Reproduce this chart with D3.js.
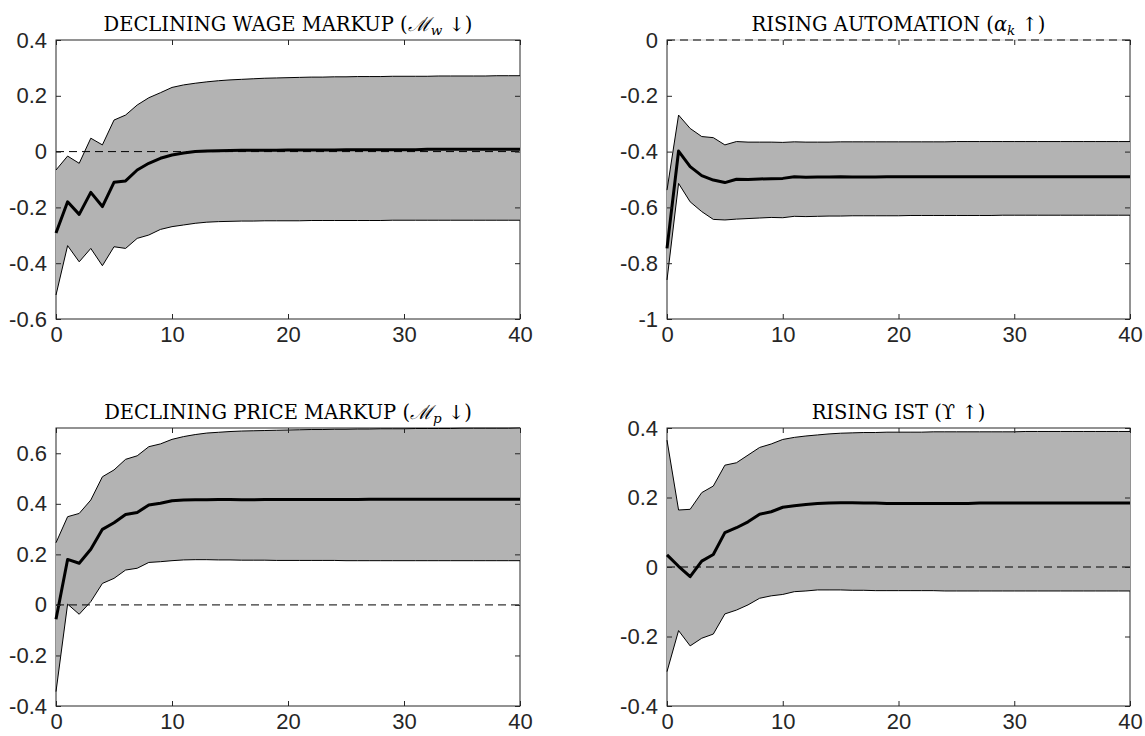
<!DOCTYPE html>
<html>
<head>
<meta charset="utf-8">
<script src="https://cdn.jsdelivr.net/npm/d3@7"></script>
<style>
  body { margin: 0; background: #fff; }
</style>
</head>
<body>
<div id="chart"></div>
<script>
// horizon (quarters after the shock)
const horizon = d3.range(0, 41);

// declining wage markup
const wageMean = [-0.292,-0.180,-0.225,-0.146,-0.197,-0.110,-0.105,-0.066,-0.042,-0.024,-0.012,-0.005,0.000,0.002,0.003,0.004,0.005,0.005,0.005,0.005,0.006,0.006,0.006,0.006,0.006,0.007,0.007,0.007,0.007,0.007,0.007,0.007,0.008,0.008,0.008,0.008,0.008,0.008,0.008,0.008,0.008];
const wageHi = [-0.066,-0.016,-0.042,0.048,0.024,0.113,0.131,0.167,0.193,0.211,0.230,0.239,0.245,0.250,0.254,0.257,0.259,0.261,0.263,0.264,0.265,0.266,0.267,0.267,0.268,0.268,0.269,0.269,0.269,0.270,0.270,0.270,0.270,0.271,0.271,0.271,0.271,0.271,0.272,0.272,0.272];
const wageLo = [-0.514,-0.337,-0.395,-0.347,-0.409,-0.341,-0.347,-0.311,-0.299,-0.279,-0.269,-0.263,-0.257,-0.253,-0.251,-0.250,-0.249,-0.249,-0.248,-0.248,-0.248,-0.248,-0.247,-0.247,-0.247,-0.247,-0.247,-0.247,-0.247,-0.246,-0.246,-0.246,-0.246,-0.246,-0.246,-0.246,-0.246,-0.246,-0.246,-0.246,-0.246];

// rising automation
const autoMean = [-0.747,-0.398,-0.454,-0.486,-0.502,-0.511,-0.499,-0.500,-0.498,-0.497,-0.496,-0.490,-0.492,-0.491,-0.491,-0.490,-0.491,-0.491,-0.491,-0.490,-0.490,-0.490,-0.490,-0.490,-0.490,-0.490,-0.490,-0.490,-0.490,-0.490,-0.490,-0.490,-0.490,-0.490,-0.490,-0.490,-0.490,-0.490,-0.490,-0.490,-0.490];
const autoHi = [-0.538,-0.269,-0.317,-0.346,-0.350,-0.376,-0.364,-0.366,-0.366,-0.366,-0.367,-0.365,-0.366,-0.366,-0.366,-0.365,-0.365,-0.365,-0.365,-0.365,-0.365,-0.365,-0.365,-0.365,-0.365,-0.364,-0.364,-0.364,-0.364,-0.364,-0.364,-0.364,-0.364,-0.364,-0.364,-0.364,-0.364,-0.364,-0.364,-0.364,-0.364];
const autoLo = [-0.860,-0.514,-0.580,-0.615,-0.643,-0.645,-0.642,-0.640,-0.638,-0.636,-0.637,-0.632,-0.633,-0.632,-0.631,-0.631,-0.630,-0.630,-0.630,-0.630,-0.630,-0.629,-0.629,-0.629,-0.629,-0.629,-0.629,-0.629,-0.629,-0.628,-0.628,-0.628,-0.628,-0.628,-0.628,-0.628,-0.628,-0.628,-0.628,-0.628,-0.628];

// declining price markup
const priceMean = [-0.057,0.180,0.165,0.220,0.299,0.325,0.358,0.366,0.395,0.402,0.412,0.415,0.416,0.416,0.417,0.417,0.416,0.416,0.417,0.417,0.417,0.417,0.417,0.417,0.417,0.417,0.417,0.418,0.418,0.418,0.418,0.418,0.418,0.418,0.418,0.418,0.418,0.418,0.418,0.418,0.418];
const priceHi = [0.246,0.349,0.362,0.415,0.507,0.534,0.576,0.590,0.626,0.637,0.655,0.666,0.674,0.680,0.683,0.686,0.688,0.689,0.690,0.691,0.692,0.693,0.694,0.694,0.695,0.695,0.696,0.696,0.697,0.697,0.697,0.698,0.698,0.698,0.698,0.699,0.699,0.699,0.699,0.699,0.700];
const priceLo = [-0.343,0.003,-0.037,0.013,0.085,0.105,0.138,0.145,0.168,0.171,0.175,0.178,0.179,0.179,0.178,0.178,0.177,0.177,0.177,0.176,0.176,0.176,0.176,0.176,0.176,0.175,0.175,0.175,0.175,0.175,0.175,0.175,0.175,0.175,0.175,0.175,0.175,0.175,0.175,0.175,0.175];

// rising IST
const istMean = [0.035,0.002,-0.028,0.017,0.036,0.099,0.113,0.130,0.152,0.159,0.172,0.176,0.180,0.183,0.184,0.185,0.185,0.184,0.184,0.183,0.183,0.183,0.183,0.183,0.183,0.183,0.183,0.184,0.184,0.184,0.184,0.184,0.184,0.184,0.184,0.184,0.184,0.184,0.184,0.184,0.184];
const istHi = [0.365,0.164,0.166,0.214,0.233,0.293,0.300,0.322,0.344,0.354,0.367,0.373,0.377,0.380,0.383,0.385,0.386,0.387,0.387,0.388,0.388,0.388,0.388,0.389,0.389,0.389,0.389,0.389,0.389,0.389,0.389,0.390,0.390,0.390,0.390,0.390,0.390,0.390,0.390,0.390,0.390];
const istLo = [-0.301,-0.183,-0.227,-0.205,-0.193,-0.135,-0.124,-0.109,-0.090,-0.083,-0.079,-0.071,-0.069,-0.066,-0.066,-0.066,-0.067,-0.067,-0.068,-0.068,-0.068,-0.068,-0.068,-0.068,-0.069,-0.069,-0.069,-0.069,-0.069,-0.069,-0.069,-0.069,-0.069,-0.069,-0.069,-0.069,-0.069,-0.069,-0.069,-0.069,-0.069];

const xTicks = [0, 10, 20, 30, 40];

const W = 1145, H = 736;
const svg = d3.select("#chart").append("svg")
    .attr("width", W)
    .attr("height", H);

// title pieces: [text, style] ; style "m" = math italic, "s" = subscript italic
const panels = [
  { mean: wageMean, lo: wageLo, hi: wageHi, yDom: [-0.6, 0.4],
    yTicks: [-0.6, -0.4, -0.2, 0, 0.2, 0.4],
    title: [["DECLINING WAGE MARKUP (", ""], ["\u2133", "m"], ["w", "s"], [" \u2193)", ""]],
    left: 56, top: 40, w: 464, h: 279 },
  { mean: autoMean, lo: autoLo, hi: autoHi, yDom: [-1, 0],
    yTicks: [-1, -0.8, -0.6, -0.4, -0.2, 0],
    title: [["RISING AUTOMATION (", ""], ["\u03B1", "m"], ["k", "s"], [" \u2191)", ""]],
    left: 667, top: 40, w: 463, h: 279 },
  { mean: priceMean, lo: priceLo, hi: priceHi, yDom: [-0.4, 0.7],
    yTicks: [-0.4, -0.2, 0, 0.2, 0.4, 0.6],
    title: [["DECLINING PRICE MARKUP (", ""], ["\u2133", "m"], ["p", "s"], [" \u2193)", ""]],
    left: 56, top: 428, w: 464, h: 278 },
  { mean: istMean, lo: istLo, hi: istHi, yDom: [-0.4, 0.4],
    yTicks: [-0.4, -0.2, 0, 0.2, 0.4],
    title: [["RISING IST (", ""], ["\u03D2", ""], [" \u2191)", ""]],
    left: 667, top: 428, w: 463, h: 278 }
];

// plain hyphen minus like the original, no trailing zeros
const fmt = d => String(+d.toFixed(1));

panels.forEach(function(p) {
  const g = svg.append("g").attr("transform", `translate(${p.left}, ${p.top})`);

  const x = d3.scaleLinear().domain([0, 40]).range([0, p.w]);
  const y = d3.scaleLinear().domain(p.yDom).range([p.h, 0]);
  const axCol = "#262626";

  // box first, so the zero line can sit on top of it
  g.append("rect")
    .attr("x", 0).attr("y", 0)
    .attr("width", p.w).attr("height", p.h)
    .attr("fill", "none")
    .attr("stroke", axCol).attr("stroke-width", 1);

  // shaded band
  const area = d3.area()
    .x((d, i) => x(horizon[i]))
    .y0((d, i) => y(p.lo[i]))
    .y1((d, i) => y(p.hi[i]));
  g.append("path")
    .datum(horizon)
    .attr("d", area)
    .attr("fill", "#b3b3b3")
    .attr("stroke", "none");

  const line = arr => d3.line().x((d, i) => x(horizon[i])).y((d, i) => y(arr[i]))(horizon);

  g.append("path").attr("d", line(p.hi))
    .attr("fill", "none").attr("stroke", "#000").attr("stroke-width", 1);
  g.append("path").attr("d", line(p.lo))
    .attr("fill", "none").attr("stroke", "#000").attr("stroke-width", 1);

  // zero line (on the frame for the automation panel)
  if (p.yDom[1] === 0) {
    g.append("line")
      .attr("x1", x(0)).attr("x2", x(40))
      .attr("y1", y(0)).attr("y2", y(0))
      .attr("stroke", "#fff").attr("stroke-width", 1.5);
  }
  g.append("line")
    .attr("x1", x(0)).attr("x2", x(40))
    .attr("y1", y(0)).attr("y2", y(0))
    .attr("stroke", "#000").attr("stroke-width", 1)
    .attr("stroke-dasharray", "8,5");

  // point estimate
  g.append("path").attr("d", line(p.mean))
    .attr("fill", "none").attr("stroke", "#000")
    .attr("stroke-width", 3).attr("stroke-linejoin", "round");

  // axes, ticks pointing inward
  const xb = g.append("g").attr("transform", `translate(0, ${p.h})`)
    .call(d3.axisBottom(x).tickValues(xTicks).tickSize(-5).tickSizeOuter(0).tickPadding(7).tickFormat(d3.format("d")));
  const xt = g.append("g")
    .call(d3.axisTop(x).tickValues(xTicks).tickSize(-5).tickSizeOuter(0).tickFormat(""));
  const yl = g.append("g")
    .call(d3.axisLeft(y).tickValues(p.yTicks).tickSize(-5).tickSizeOuter(0).tickPadding(9).tickFormat(fmt));
  const yr = g.append("g").attr("transform", `translate(${p.w}, 0)`)
    .call(d3.axisRight(y).tickValues(p.yTicks).tickSize(-5).tickSizeOuter(0).tickFormat(""));

  [xb, xt, yl, yr].forEach(a => {
    a.select(".domain").remove();
    a.selectAll(".tick line").attr("stroke", axCol);
    a.selectAll("text")
      .attr("fill", "#262626")
      .style("font-family", "'Liberation Sans', Arial, sans-serif")
      .style("font-size", "22px");
  });

  // title
  const t = g.append("text")
    .attr("x", p.w / 2)
    .attr("y", -9)
    .attr("text-anchor", "middle")
    .style("font-family", "'DejaVu Serif', 'Liberation Serif', serif")
    .style("font-size", "19.5px")
    .attr("fill", "#000");
  p.title.forEach(function(piece) {
    const ts = t.append("tspan").text(piece[0]);
    if (piece[1] === "m") ts.style("font-style", "italic");
    if (piece[1] === "s") ts.style("font-style", "italic").style("font-size", "13.5px").attr("baseline-shift", "-25%");
  });
});
</script>
</body>
</html>
